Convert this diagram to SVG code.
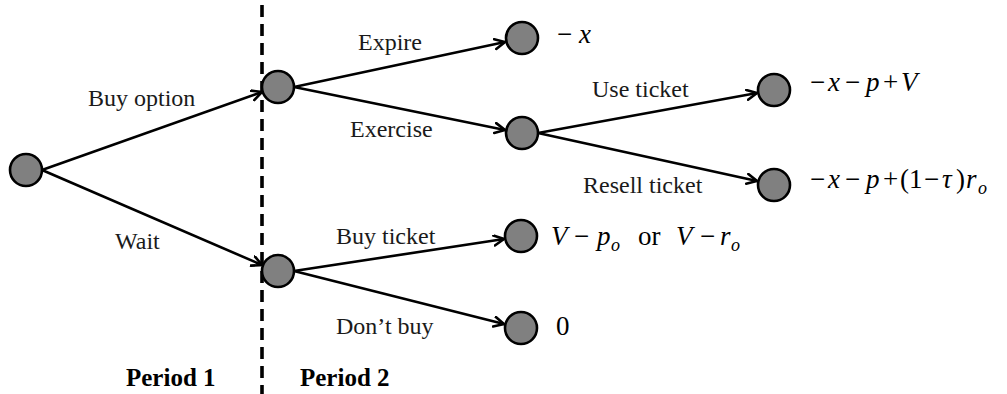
<svg xmlns="http://www.w3.org/2000/svg" width="1007" height="394" viewBox="0 0 1007 394">
<style>
.node{fill:#808080;stroke:#000;stroke-width:2.6}
.edge{stroke:#000;stroke-width:2.6;fill:none;marker-end:url(#arr)}
text{font-family:'Liberation Serif','Times New Roman','DejaVu Serif',serif}
.lbl{font-size:24px;fill:#1a1a1a}
.per{font-size:25px;font-weight:bold;fill:#000}
.m{font-size:27px;fill:#000}
.i{font-style:italic}
.sub{font-style:italic;font-size:18px}
</style>
<defs>
<marker id="arr" markerUnits="userSpaceOnUse" markerWidth="14" markerHeight="14" refX="11" refY="6" orient="auto">
<path d="M1,1 L11,6 L1,11" fill="none" stroke="#000" stroke-width="2.6" stroke-linecap="round" stroke-linejoin="miter"/>
</marker>
</defs>
<rect width="1007" height="394" fill="#fff"/>
<line x1="262" y1="5" x2="262" y2="394" stroke="#000" stroke-width="3.6" stroke-dasharray="12 7"/>
<g id="connectors">
<line class="edge" x1="42" y1="170" x2="262" y2="92"/>
<line class="edge" x1="42" y1="170" x2="262" y2="265"/>
<line class="edge" x1="294" y1="87" x2="505" y2="42"/>
<line class="edge" x1="294" y1="87" x2="505" y2="130"/>
<line class="edge" x1="538" y1="133" x2="757" y2="93"/>
<line class="edge" x1="538" y1="133" x2="757" y2="181"/>
<line class="edge" x1="294" y1="271" x2="504" y2="239"/>
<line class="edge" x1="294" y1="271" x2="504" y2="324"/>
</g>
<g id="root"><circle class="node" cx="26" cy="170" r="16"/></g>
<g id="buyoption"><circle class="node" cx="278" cy="87" r="16"/></g>
<g id="wait"><circle class="node" cx="278" cy="271" r="16"/></g>
<g id="expire"><circle class="node" cx="522" cy="38" r="16"/></g>
<g id="exercise"><circle class="node" cx="522" cy="133" r="16"/></g>
<g id="useticket"><circle class="node" cx="774" cy="90" r="16"/></g>
<g id="resell"><circle class="node" cx="774" cy="185" r="16"/></g>
<g id="buyticket"><circle class="node" cx="521" cy="236" r="16"/></g>
<g id="dontbuy"><circle class="node" cx="521" cy="328" r="16"/></g>
<g id="labels">
<text class="lbl" x="88" y="106">Buy option</text>
<text class="lbl" x="115" y="249">Wait</text>
<text class="lbl" x="358" y="50">Expire</text>
<text class="lbl" x="350" y="137">Exercise</text>
<text class="lbl" x="592" y="97">Use ticket</text>
<text class="lbl" x="583" y="193">Resell ticket</text>
<text class="lbl" x="336" y="244">Buy ticket</text>
<text class="lbl" x="336" y="334">Don’t buy</text>
<text class="per" x="126" y="386">Period 1</text>
<text class="per" x="300" y="386">Period 2</text>
</g>
<g id="payoffs">
<text class="m" y="43"><tspan x="557">−</tspan><tspan class="i" x="579">x</tspan></text>
<text class="m" y="91"><tspan x="810">−</tspan><tspan class="i" x="828">x</tspan><tspan x="845">−</tspan><tspan class="i" x="866">p</tspan><tspan x="883">+</tspan><tspan class="i" x="901">V</tspan></text>
<text class="m" y="188"><tspan x="810">−</tspan><tspan class="i" x="828">x</tspan><tspan x="845">−</tspan><tspan class="i" x="866">p</tspan><tspan x="883">+</tspan><tspan x="900">(</tspan><tspan x="909">1</tspan><tspan x="924">−</tspan><tspan class="i" x="942">τ</tspan><tspan x="956">)</tspan><tspan class="i" x="966">r</tspan><tspan class="sub" x="978" dy="6">o</tspan></text>
<text class="m" y="245"><tspan class="i" x="551">V</tspan><tspan x="574">−</tspan><tspan class="i" x="597">p</tspan><tspan class="sub" x="611" dy="6">o</tspan><tspan x="638" dy="-6">or</tspan><tspan class="i" x="676">V</tspan><tspan x="700">−</tspan><tspan class="i" x="720">r</tspan><tspan class="sub" x="731" dy="6">o</tspan></text>
<text class="m" x="556" y="335">0</text>
</g>
</svg>
